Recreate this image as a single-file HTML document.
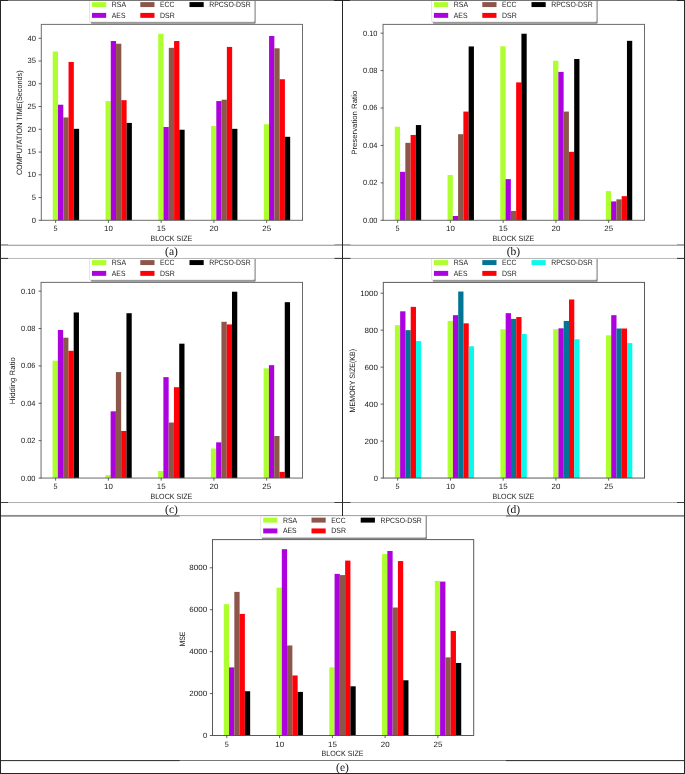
<!DOCTYPE html>
<html><head><meta charset="utf-8"><title>Figure</title>
<style>
html,body{margin:0;padding:0;background:#fff;}
body{width:685px;height:774px;overflow:hidden;font-family:"Liberation Sans",sans-serif;}
svg{display:block;position:absolute;left:0;top:0;}
text{text-rendering:geometricPrecision;}
svg{-webkit-mask-image:linear-gradient(#000,#000);mask-image:linear-gradient(#000,#000);}
</style></head><body>
<svg width="685" height="774" viewBox="0 0 685 774">
<rect x="0" y="0" width="685" height="774" fill="#ffffff"/>
<defs><clipPath id="lc"><rect x="0" y="0.4" width="343" height="245"/></clipPath></defs>
<g transform="translate(0,0)">
<rect x="52.72" y="51.48" width="5.28" height="168.82" fill="#adff2f"/>
<rect x="105.49" y="101.08" width="5.28" height="119.22" fill="#adff2f"/>
<rect x="158.26" y="33.73" width="5.28" height="186.57" fill="#adff2f"/>
<rect x="211.03" y="126.10" width="5.28" height="94.20" fill="#adff2f"/>
<rect x="263.79" y="124.28" width="5.28" height="96.02" fill="#adff2f"/>
<rect x="58.00" y="104.72" width="5.28" height="115.58" fill="#ab02de"/>
<rect x="110.77" y="41.01" width="5.28" height="179.29" fill="#ab02de"/>
<rect x="163.53" y="127.01" width="5.28" height="93.29" fill="#ab02de"/>
<rect x="216.30" y="101.08" width="5.28" height="119.22" fill="#ab02de"/>
<rect x="269.07" y="36.00" width="5.28" height="184.30" fill="#ab02de"/>
<rect x="63.28" y="117.46" width="5.28" height="102.84" fill="#8c564b"/>
<rect x="116.04" y="43.74" width="5.28" height="176.56" fill="#8c564b"/>
<rect x="168.81" y="47.84" width="5.28" height="172.46" fill="#8c564b"/>
<rect x="221.58" y="99.71" width="5.28" height="120.59" fill="#8c564b"/>
<rect x="274.35" y="48.29" width="5.28" height="172.01" fill="#8c564b"/>
<rect x="68.55" y="61.94" width="5.28" height="158.36" fill="#ff0008"/>
<rect x="121.32" y="100.17" width="5.28" height="120.13" fill="#ff0008"/>
<rect x="174.09" y="41.01" width="5.28" height="179.29" fill="#ff0008"/>
<rect x="226.86" y="46.93" width="5.28" height="173.37" fill="#ff0008"/>
<rect x="279.62" y="79.23" width="5.28" height="141.07" fill="#ff0008"/>
<rect x="73.83" y="128.83" width="5.28" height="91.47" fill="#000000"/>
<rect x="126.60" y="122.92" width="5.28" height="97.38" fill="#000000"/>
<rect x="179.37" y="129.74" width="5.28" height="90.56" fill="#000000"/>
<rect x="232.13" y="128.83" width="5.28" height="91.47" fill="#000000"/>
<rect x="284.90" y="136.80" width="5.28" height="83.50" fill="#000000"/>
<line x1="41.30" y1="23.95" x2="41.30" y2="220.75" stroke="#5c5c5c" stroke-width="0.9"/>
<line x1="302.50" y1="23.95" x2="302.50" y2="220.75" stroke="#5c5c5c" stroke-width="0.9"/>
<line x1="41.30" y1="24.40" x2="302.50" y2="24.40" stroke="#5c5c5c" stroke-width="0.9"/>
<line x1="41.30" y1="220.30" x2="302.50" y2="220.30" stroke="#5c5c5c" stroke-width="0.9"/>
<line x1="55.61" y1="220.30" x2="55.61" y2="222.90" stroke="#505050" stroke-width="0.9"/>
<text x="55.51" y="231.40" font-size="7.7" font-family="Liberation Sans, sans-serif" text-anchor="middle" fill="#1a1a1a" textLength="4.01" lengthAdjust="spacingAndGlyphs">5</text>
<line x1="108.38" y1="220.30" x2="108.38" y2="222.90" stroke="#505050" stroke-width="0.9"/>
<text x="108.48" y="231.40" font-size="7.7" font-family="Liberation Sans, sans-serif" text-anchor="middle" fill="#1a1a1a" textLength="8.82" lengthAdjust="spacingAndGlyphs">10</text>
<line x1="161.15" y1="220.30" x2="161.15" y2="222.90" stroke="#505050" stroke-width="0.9"/>
<text x="161.25" y="231.40" font-size="7.7" font-family="Liberation Sans, sans-serif" text-anchor="middle" fill="#1a1a1a" textLength="8.82" lengthAdjust="spacingAndGlyphs">15</text>
<line x1="213.91" y1="220.30" x2="213.91" y2="222.90" stroke="#505050" stroke-width="0.9"/>
<text x="214.01" y="231.40" font-size="7.7" font-family="Liberation Sans, sans-serif" text-anchor="middle" fill="#1a1a1a" textLength="8.82" lengthAdjust="spacingAndGlyphs">20</text>
<line x1="266.68" y1="220.30" x2="266.68" y2="222.90" stroke="#505050" stroke-width="0.9"/>
<text x="266.78" y="231.40" font-size="7.7" font-family="Liberation Sans, sans-serif" text-anchor="middle" fill="#1a1a1a" textLength="8.82" lengthAdjust="spacingAndGlyphs">25</text>
<line x1="38.60" y1="220.30" x2="41.30" y2="220.30" stroke="#505050" stroke-width="0.9"/>
<text x="36.00" y="222.75" font-size="7.7" font-family="Liberation Sans, sans-serif" text-anchor="end" fill="#1a1a1a" textLength="4.23" lengthAdjust="spacingAndGlyphs">0</text>
<line x1="38.60" y1="197.55" x2="41.30" y2="197.55" stroke="#505050" stroke-width="0.9"/>
<text x="36.00" y="200.00" font-size="7.7" font-family="Liberation Sans, sans-serif" text-anchor="end" fill="#1a1a1a" textLength="4.23" lengthAdjust="spacingAndGlyphs">5</text>
<line x1="38.60" y1="174.79" x2="41.30" y2="174.79" stroke="#505050" stroke-width="0.9"/>
<text x="36.00" y="177.24" font-size="7.7" font-family="Liberation Sans, sans-serif" text-anchor="end" fill="#1a1a1a" textLength="8.46" lengthAdjust="spacingAndGlyphs">10</text>
<line x1="38.60" y1="152.04" x2="41.30" y2="152.04" stroke="#505050" stroke-width="0.9"/>
<text x="36.00" y="154.49" font-size="7.7" font-family="Liberation Sans, sans-serif" text-anchor="end" fill="#1a1a1a" textLength="8.46" lengthAdjust="spacingAndGlyphs">15</text>
<line x1="38.60" y1="129.29" x2="41.30" y2="129.29" stroke="#505050" stroke-width="0.9"/>
<text x="36.00" y="131.74" font-size="7.7" font-family="Liberation Sans, sans-serif" text-anchor="end" fill="#1a1a1a" textLength="8.46" lengthAdjust="spacingAndGlyphs">20</text>
<line x1="38.60" y1="106.54" x2="41.30" y2="106.54" stroke="#505050" stroke-width="0.9"/>
<text x="36.00" y="108.99" font-size="7.7" font-family="Liberation Sans, sans-serif" text-anchor="end" fill="#1a1a1a" textLength="8.46" lengthAdjust="spacingAndGlyphs">25</text>
<line x1="38.60" y1="83.78" x2="41.30" y2="83.78" stroke="#505050" stroke-width="0.9"/>
<text x="36.00" y="86.23" font-size="7.7" font-family="Liberation Sans, sans-serif" text-anchor="end" fill="#1a1a1a" textLength="8.46" lengthAdjust="spacingAndGlyphs">30</text>
<line x1="38.60" y1="61.03" x2="41.30" y2="61.03" stroke="#505050" stroke-width="0.9"/>
<text x="36.00" y="63.48" font-size="7.7" font-family="Liberation Sans, sans-serif" text-anchor="end" fill="#1a1a1a" textLength="8.46" lengthAdjust="spacingAndGlyphs">35</text>
<line x1="38.60" y1="38.28" x2="41.30" y2="38.28" stroke="#505050" stroke-width="0.9"/>
<text x="36.00" y="40.73" font-size="7.7" font-family="Liberation Sans, sans-serif" text-anchor="end" fill="#1a1a1a" textLength="8.46" lengthAdjust="spacingAndGlyphs">40</text>
<text x="171.40" y="241.00" font-size="7.7" font-family="Liberation Sans, sans-serif" text-anchor="middle" fill="#1a1a1a" textLength="41.99" lengthAdjust="spacingAndGlyphs">BLOCK SIZE</text>
<text x="22.20" y="122.75" font-size="7.7" font-family="Liberation Sans, sans-serif" text-anchor="middle" fill="#1a1a1a" textLength="104.75" lengthAdjust="spacingAndGlyphs" transform="rotate(-90 22.20 122.75)">COMPUTATION TIME(Seconds)</text>
<g clip-path="url(#lc)">
<g transform="translate(0,0.0)">
<rect x="90.80" y="-1.10" width="164.90" height="24.90" rx="1.2" fill="#888888"/>
<rect x="89.50" y="-3.00" width="164.90" height="24.90" rx="1.2" fill="#ffffff" stroke="#d4d4d4" stroke-width="0.6"/>
<rect x="92.00" y="2.10" width="14.2" height="4.95" fill="#adff2f"/>
<text x="111.80" y="7.05" font-size="7.7" font-family="Liberation Sans, sans-serif" text-anchor="start" fill="#1a1a1a" textLength="14.23" lengthAdjust="spacingAndGlyphs">RSA</text>
<rect x="92.00" y="12.90" width="14.2" height="4.95" fill="#ab02de"/>
<text x="111.80" y="17.85" font-size="7.7" font-family="Liberation Sans, sans-serif" text-anchor="start" fill="#1a1a1a" textLength="13.66" lengthAdjust="spacingAndGlyphs">AES</text>
<rect x="140.30" y="2.10" width="14.2" height="4.95" fill="#8c564b"/>
<text x="160.10" y="7.05" font-size="7.7" font-family="Liberation Sans, sans-serif" text-anchor="start" fill="#1a1a1a" textLength="14.20" lengthAdjust="spacingAndGlyphs">ECC</text>
<rect x="140.30" y="12.90" width="14.2" height="4.95" fill="#ff0008"/>
<text x="160.10" y="17.85" font-size="7.7" font-family="Liberation Sans, sans-serif" text-anchor="start" fill="#1a1a1a" textLength="14.70" lengthAdjust="spacingAndGlyphs">DSR</text>
<rect x="189.50" y="2.10" width="14.2" height="4.95" fill="#000000"/>
<text x="209.30" y="7.05" font-size="7.7" font-family="Liberation Sans, sans-serif" text-anchor="start" fill="#1a1a1a" textLength="41.34" lengthAdjust="spacingAndGlyphs">RPCSO-DSR</text>
</g>
</g>
</g>
<g transform="translate(342,0)">
<rect x="52.77" y="126.73" width="5.28" height="93.57" fill="#adff2f"/>
<rect x="105.54" y="175.01" width="5.28" height="45.29" fill="#adff2f"/>
<rect x="158.31" y="46.27" width="5.28" height="174.03" fill="#adff2f"/>
<rect x="211.08" y="60.68" width="5.28" height="159.62" fill="#adff2f"/>
<rect x="263.84" y="191.11" width="5.28" height="29.19" fill="#adff2f"/>
<rect x="58.05" y="171.83" width="5.28" height="48.47" fill="#ab02de"/>
<rect x="110.82" y="216.00" width="5.28" height="4.30" fill="#ab02de"/>
<rect x="163.58" y="179.13" width="5.28" height="41.17" fill="#ab02de"/>
<rect x="216.35" y="71.90" width="5.28" height="148.40" fill="#ab02de"/>
<rect x="269.12" y="201.40" width="5.28" height="18.90" fill="#ab02de"/>
<rect x="63.33" y="142.83" width="5.28" height="77.47" fill="#8c564b"/>
<rect x="116.09" y="134.22" width="5.28" height="86.08" fill="#8c564b"/>
<rect x="168.86" y="210.94" width="5.28" height="9.36" fill="#8c564b"/>
<rect x="221.63" y="111.58" width="5.28" height="108.72" fill="#8c564b"/>
<rect x="274.40" y="199.34" width="5.28" height="20.96" fill="#8c564b"/>
<rect x="68.60" y="134.97" width="5.28" height="85.33" fill="#ff0008"/>
<rect x="121.37" y="111.58" width="5.28" height="108.72" fill="#ff0008"/>
<rect x="174.14" y="82.38" width="5.28" height="137.92" fill="#ff0008"/>
<rect x="226.91" y="151.81" width="5.28" height="68.49" fill="#ff0008"/>
<rect x="279.67" y="196.16" width="5.28" height="24.14" fill="#ff0008"/>
<rect x="73.88" y="125.05" width="5.28" height="95.25" fill="#000000"/>
<rect x="126.65" y="46.45" width="5.28" height="173.85" fill="#000000"/>
<rect x="179.42" y="33.73" width="5.28" height="186.57" fill="#000000"/>
<rect x="232.18" y="58.99" width="5.28" height="161.31" fill="#000000"/>
<rect x="284.95" y="40.84" width="5.28" height="179.46" fill="#000000"/>
<line x1="41.05" y1="23.95" x2="41.05" y2="220.75" stroke="#5a5a5a" stroke-width="0.9"/>
<line x1="302.50" y1="23.95" x2="302.50" y2="220.75" stroke="#5a5a5a" stroke-width="0.9"/>
<line x1="41.05" y1="24.40" x2="302.50" y2="24.40" stroke="#5a5a5a" stroke-width="0.9"/>
<line x1="41.05" y1="220.30" x2="302.50" y2="220.30" stroke="#5a5a5a" stroke-width="0.9"/>
<line x1="55.61" y1="220.30" x2="55.61" y2="222.90" stroke="#505050" stroke-width="0.9"/>
<text x="55.51" y="231.40" font-size="7.7" font-family="Liberation Sans, sans-serif" text-anchor="middle" fill="#1a1a1a" textLength="4.01" lengthAdjust="spacingAndGlyphs">5</text>
<line x1="108.38" y1="220.30" x2="108.38" y2="222.90" stroke="#505050" stroke-width="0.9"/>
<text x="108.48" y="231.40" font-size="7.7" font-family="Liberation Sans, sans-serif" text-anchor="middle" fill="#1a1a1a" textLength="8.82" lengthAdjust="spacingAndGlyphs">10</text>
<line x1="161.15" y1="220.30" x2="161.15" y2="222.90" stroke="#505050" stroke-width="0.9"/>
<text x="161.25" y="231.40" font-size="7.7" font-family="Liberation Sans, sans-serif" text-anchor="middle" fill="#1a1a1a" textLength="8.82" lengthAdjust="spacingAndGlyphs">15</text>
<line x1="213.91" y1="220.30" x2="213.91" y2="222.90" stroke="#505050" stroke-width="0.9"/>
<text x="214.01" y="231.40" font-size="7.7" font-family="Liberation Sans, sans-serif" text-anchor="middle" fill="#1a1a1a" textLength="8.82" lengthAdjust="spacingAndGlyphs">20</text>
<line x1="266.68" y1="220.30" x2="266.68" y2="222.90" stroke="#505050" stroke-width="0.9"/>
<text x="266.78" y="231.40" font-size="7.7" font-family="Liberation Sans, sans-serif" text-anchor="middle" fill="#1a1a1a" textLength="8.82" lengthAdjust="spacingAndGlyphs">25</text>
<line x1="38.60" y1="220.30" x2="41.30" y2="220.30" stroke="#505050" stroke-width="0.9"/>
<text x="35.50" y="222.75" font-size="7.7" font-family="Liberation Sans, sans-serif" text-anchor="end" fill="#1a1a1a" textLength="14.49" lengthAdjust="spacingAndGlyphs">0.00</text>
<line x1="38.60" y1="182.87" x2="41.30" y2="182.87" stroke="#505050" stroke-width="0.9"/>
<text x="35.50" y="185.32" font-size="7.7" font-family="Liberation Sans, sans-serif" text-anchor="end" fill="#1a1a1a" textLength="14.49" lengthAdjust="spacingAndGlyphs">0.02</text>
<line x1="38.60" y1="145.45" x2="41.30" y2="145.45" stroke="#505050" stroke-width="0.9"/>
<text x="35.50" y="147.90" font-size="7.7" font-family="Liberation Sans, sans-serif" text-anchor="end" fill="#1a1a1a" textLength="14.49" lengthAdjust="spacingAndGlyphs">0.04</text>
<line x1="38.60" y1="108.02" x2="41.30" y2="108.02" stroke="#505050" stroke-width="0.9"/>
<text x="35.50" y="110.47" font-size="7.7" font-family="Liberation Sans, sans-serif" text-anchor="end" fill="#1a1a1a" textLength="14.49" lengthAdjust="spacingAndGlyphs">0.06</text>
<line x1="38.60" y1="70.59" x2="41.30" y2="70.59" stroke="#505050" stroke-width="0.9"/>
<text x="35.50" y="73.04" font-size="7.7" font-family="Liberation Sans, sans-serif" text-anchor="end" fill="#1a1a1a" textLength="14.49" lengthAdjust="spacingAndGlyphs">0.08</text>
<line x1="38.60" y1="33.17" x2="41.30" y2="33.17" stroke="#505050" stroke-width="0.9"/>
<text x="35.50" y="35.62" font-size="7.7" font-family="Liberation Sans, sans-serif" text-anchor="end" fill="#1a1a1a" textLength="14.49" lengthAdjust="spacingAndGlyphs">0.10</text>
<text x="171.40" y="241.00" font-size="7.7" font-family="Liberation Sans, sans-serif" text-anchor="middle" fill="#1a1a1a" textLength="41.99" lengthAdjust="spacingAndGlyphs">BLOCK SIZE</text>
<text x="14.70" y="122.75" font-size="7.7" font-family="Liberation Sans, sans-serif" text-anchor="middle" fill="#1a1a1a" textLength="64.00" lengthAdjust="spacingAndGlyphs" transform="rotate(-90 14.70 122.75)">Preservation Ratio</text>
<g clip-path="url(#lc)">
<g transform="translate(0,0.0)">
<rect x="90.80" y="-1.10" width="164.90" height="24.90" rx="1.2" fill="#888888"/>
<rect x="89.50" y="-3.00" width="164.90" height="24.90" rx="1.2" fill="#ffffff" stroke="#d4d4d4" stroke-width="0.6"/>
<rect x="92.00" y="2.10" width="14.2" height="4.95" fill="#adff2f"/>
<text x="111.80" y="7.05" font-size="7.7" font-family="Liberation Sans, sans-serif" text-anchor="start" fill="#1a1a1a" textLength="14.23" lengthAdjust="spacingAndGlyphs">RSA</text>
<rect x="92.00" y="12.90" width="14.2" height="4.95" fill="#ab02de"/>
<text x="111.80" y="17.85" font-size="7.7" font-family="Liberation Sans, sans-serif" text-anchor="start" fill="#1a1a1a" textLength="13.66" lengthAdjust="spacingAndGlyphs">AES</text>
<rect x="140.30" y="2.10" width="14.2" height="4.95" fill="#8c564b"/>
<text x="160.10" y="7.05" font-size="7.7" font-family="Liberation Sans, sans-serif" text-anchor="start" fill="#1a1a1a" textLength="14.20" lengthAdjust="spacingAndGlyphs">ECC</text>
<rect x="140.30" y="12.90" width="14.2" height="4.95" fill="#ff0008"/>
<text x="160.10" y="17.85" font-size="7.7" font-family="Liberation Sans, sans-serif" text-anchor="start" fill="#1a1a1a" textLength="14.70" lengthAdjust="spacingAndGlyphs">DSR</text>
<rect x="189.50" y="2.10" width="14.2" height="4.95" fill="#000000"/>
<text x="209.30" y="7.05" font-size="7.7" font-family="Liberation Sans, sans-serif" text-anchor="start" fill="#1a1a1a" textLength="41.34" lengthAdjust="spacingAndGlyphs">RPCSO-DSR</text>
</g>
</g>
</g>
<g transform="translate(0,258)">
<rect x="52.57" y="102.68" width="5.28" height="117.37" fill="#adff2f"/>
<rect x="105.34" y="217.06" width="5.28" height="2.99" fill="#adff2f"/>
<rect x="158.11" y="212.95" width="5.28" height="7.10" fill="#adff2f"/>
<rect x="210.88" y="190.52" width="5.28" height="29.53" fill="#adff2f"/>
<rect x="263.64" y="110.34" width="5.28" height="109.71" fill="#adff2f"/>
<rect x="57.85" y="72.03" width="5.28" height="148.02" fill="#ab02de"/>
<rect x="110.62" y="153.33" width="5.28" height="66.72" fill="#ab02de"/>
<rect x="163.38" y="119.13" width="5.28" height="100.92" fill="#ab02de"/>
<rect x="216.15" y="184.35" width="5.28" height="35.70" fill="#ab02de"/>
<rect x="268.92" y="107.17" width="5.28" height="112.88" fill="#ab02de"/>
<rect x="63.13" y="79.69" width="5.28" height="140.36" fill="#8c564b"/>
<rect x="115.89" y="114.08" width="5.28" height="105.97" fill="#8c564b"/>
<rect x="168.66" y="164.54" width="5.28" height="55.51" fill="#8c564b"/>
<rect x="221.43" y="63.81" width="5.28" height="156.24" fill="#8c564b"/>
<rect x="274.20" y="178.00" width="5.28" height="42.05" fill="#8c564b"/>
<rect x="68.40" y="92.78" width="5.28" height="127.27" fill="#ff0008"/>
<rect x="121.17" y="172.95" width="5.28" height="47.10" fill="#ff0008"/>
<rect x="173.94" y="129.22" width="5.28" height="90.83" fill="#ff0008"/>
<rect x="226.71" y="66.42" width="5.28" height="153.63" fill="#ff0008"/>
<rect x="279.47" y="213.88" width="5.28" height="6.17" fill="#ff0008"/>
<rect x="73.68" y="54.46" width="5.28" height="165.59" fill="#000000"/>
<rect x="126.45" y="55.21" width="5.28" height="164.84" fill="#000000"/>
<rect x="179.22" y="85.67" width="5.28" height="134.38" fill="#000000"/>
<rect x="231.98" y="33.72" width="5.28" height="186.33" fill="#000000"/>
<rect x="284.75" y="44.18" width="5.28" height="175.87" fill="#000000"/>
<line x1="41.05" y1="23.95" x2="41.05" y2="220.50" stroke="#5a5a5a" stroke-width="0.9"/>
<line x1="302.50" y1="23.95" x2="302.50" y2="220.50" stroke="#5a5a5a" stroke-width="0.9"/>
<line x1="41.05" y1="24.40" x2="302.50" y2="24.40" stroke="#5a5a5a" stroke-width="0.9"/>
<line x1="41.05" y1="220.05" x2="302.50" y2="220.05" stroke="#5a5a5a" stroke-width="0.9"/>
<line x1="55.61" y1="220.05" x2="55.61" y2="222.65" stroke="#505050" stroke-width="0.9"/>
<text x="55.51" y="231.40" font-size="7.7" font-family="Liberation Sans, sans-serif" text-anchor="middle" fill="#1a1a1a" textLength="4.01" lengthAdjust="spacingAndGlyphs">5</text>
<line x1="108.38" y1="220.05" x2="108.38" y2="222.65" stroke="#505050" stroke-width="0.9"/>
<text x="108.48" y="231.40" font-size="7.7" font-family="Liberation Sans, sans-serif" text-anchor="middle" fill="#1a1a1a" textLength="8.82" lengthAdjust="spacingAndGlyphs">10</text>
<line x1="161.15" y1="220.05" x2="161.15" y2="222.65" stroke="#505050" stroke-width="0.9"/>
<text x="161.25" y="231.40" font-size="7.7" font-family="Liberation Sans, sans-serif" text-anchor="middle" fill="#1a1a1a" textLength="8.82" lengthAdjust="spacingAndGlyphs">15</text>
<line x1="213.91" y1="220.05" x2="213.91" y2="222.65" stroke="#505050" stroke-width="0.9"/>
<text x="214.01" y="231.40" font-size="7.7" font-family="Liberation Sans, sans-serif" text-anchor="middle" fill="#1a1a1a" textLength="8.82" lengthAdjust="spacingAndGlyphs">20</text>
<line x1="266.68" y1="220.05" x2="266.68" y2="222.65" stroke="#505050" stroke-width="0.9"/>
<text x="266.78" y="231.40" font-size="7.7" font-family="Liberation Sans, sans-serif" text-anchor="middle" fill="#1a1a1a" textLength="8.82" lengthAdjust="spacingAndGlyphs">25</text>
<line x1="38.60" y1="220.05" x2="41.30" y2="220.05" stroke="#505050" stroke-width="0.9"/>
<text x="35.50" y="222.50" font-size="7.7" font-family="Liberation Sans, sans-serif" text-anchor="end" fill="#1a1a1a" textLength="14.49" lengthAdjust="spacingAndGlyphs">0.00</text>
<line x1="38.60" y1="182.67" x2="41.30" y2="182.67" stroke="#505050" stroke-width="0.9"/>
<text x="35.50" y="185.12" font-size="7.7" font-family="Liberation Sans, sans-serif" text-anchor="end" fill="#1a1a1a" textLength="14.49" lengthAdjust="spacingAndGlyphs">0.02</text>
<line x1="38.60" y1="145.29" x2="41.30" y2="145.29" stroke="#505050" stroke-width="0.9"/>
<text x="35.50" y="147.74" font-size="7.7" font-family="Liberation Sans, sans-serif" text-anchor="end" fill="#1a1a1a" textLength="14.49" lengthAdjust="spacingAndGlyphs">0.04</text>
<line x1="38.60" y1="107.91" x2="41.30" y2="107.91" stroke="#505050" stroke-width="0.9"/>
<text x="35.50" y="110.36" font-size="7.7" font-family="Liberation Sans, sans-serif" text-anchor="end" fill="#1a1a1a" textLength="14.49" lengthAdjust="spacingAndGlyphs">0.06</text>
<line x1="38.60" y1="70.53" x2="41.30" y2="70.53" stroke="#505050" stroke-width="0.9"/>
<text x="35.50" y="72.98" font-size="7.7" font-family="Liberation Sans, sans-serif" text-anchor="end" fill="#1a1a1a" textLength="14.49" lengthAdjust="spacingAndGlyphs">0.08</text>
<line x1="38.60" y1="33.16" x2="41.30" y2="33.16" stroke="#505050" stroke-width="0.9"/>
<text x="35.50" y="35.61" font-size="7.7" font-family="Liberation Sans, sans-serif" text-anchor="end" fill="#1a1a1a" textLength="14.49" lengthAdjust="spacingAndGlyphs">0.10</text>
<text x="171.40" y="241.00" font-size="7.7" font-family="Liberation Sans, sans-serif" text-anchor="middle" fill="#1a1a1a" textLength="41.99" lengthAdjust="spacingAndGlyphs">BLOCK SIZE</text>
<text x="14.60" y="122.63" font-size="7.7" font-family="Liberation Sans, sans-serif" text-anchor="middle" fill="#1a1a1a" textLength="47.12" lengthAdjust="spacingAndGlyphs" transform="rotate(-90 14.60 122.63)">Hidding Ratio</text>
<g clip-path="url(#lc)">
<g transform="translate(0,0.0)">
<rect x="90.80" y="-1.10" width="164.90" height="24.90" rx="1.2" fill="#888888"/>
<rect x="89.50" y="-3.00" width="164.90" height="24.90" rx="1.2" fill="#ffffff" stroke="#d4d4d4" stroke-width="0.6"/>
<rect x="92.00" y="2.10" width="14.2" height="4.95" fill="#adff2f"/>
<text x="111.80" y="7.05" font-size="7.7" font-family="Liberation Sans, sans-serif" text-anchor="start" fill="#1a1a1a" textLength="14.23" lengthAdjust="spacingAndGlyphs">RSA</text>
<rect x="92.00" y="12.90" width="14.2" height="4.95" fill="#ab02de"/>
<text x="111.80" y="17.85" font-size="7.7" font-family="Liberation Sans, sans-serif" text-anchor="start" fill="#1a1a1a" textLength="13.66" lengthAdjust="spacingAndGlyphs">AES</text>
<rect x="140.30" y="2.10" width="14.2" height="4.95" fill="#8c564b"/>
<text x="160.10" y="7.05" font-size="7.7" font-family="Liberation Sans, sans-serif" text-anchor="start" fill="#1a1a1a" textLength="14.20" lengthAdjust="spacingAndGlyphs">ECC</text>
<rect x="140.30" y="12.90" width="14.2" height="4.95" fill="#ff0008"/>
<text x="160.10" y="17.85" font-size="7.7" font-family="Liberation Sans, sans-serif" text-anchor="start" fill="#1a1a1a" textLength="14.70" lengthAdjust="spacingAndGlyphs">DSR</text>
<rect x="189.50" y="2.10" width="14.2" height="4.95" fill="#000000"/>
<text x="209.30" y="7.05" font-size="7.7" font-family="Liberation Sans, sans-serif" text-anchor="start" fill="#1a1a1a" textLength="41.34" lengthAdjust="spacingAndGlyphs">RPCSO-DSR</text>
</g>
</g>
</g>
<g transform="translate(342,258)">
<rect x="52.87" y="67.18" width="5.28" height="152.87" fill="#adff2f"/>
<rect x="105.64" y="62.92" width="5.28" height="157.13" fill="#adff2f"/>
<rect x="158.41" y="71.24" width="5.28" height="148.81" fill="#adff2f"/>
<rect x="211.18" y="71.24" width="5.28" height="148.81" fill="#adff2f"/>
<rect x="263.94" y="77.34" width="5.28" height="142.71" fill="#adff2f"/>
<rect x="58.15" y="53.31" width="5.28" height="166.74" fill="#ab02de"/>
<rect x="110.92" y="57.19" width="5.28" height="162.86" fill="#ab02de"/>
<rect x="163.68" y="55.16" width="5.28" height="164.89" fill="#ab02de"/>
<rect x="216.45" y="70.32" width="5.28" height="149.73" fill="#ab02de"/>
<rect x="269.22" y="57.19" width="5.28" height="162.86" fill="#ab02de"/>
<rect x="63.43" y="72.17" width="5.28" height="147.88" fill="#047495"/>
<rect x="116.19" y="33.53" width="5.28" height="186.52" fill="#047495"/>
<rect x="168.96" y="60.89" width="5.28" height="159.16" fill="#047495"/>
<rect x="221.73" y="62.92" width="5.28" height="157.13" fill="#047495"/>
<rect x="274.50" y="70.50" width="5.28" height="149.55" fill="#047495"/>
<rect x="68.70" y="48.87" width="5.28" height="171.18" fill="#ff0008"/>
<rect x="121.47" y="65.33" width="5.28" height="154.72" fill="#ff0008"/>
<rect x="174.24" y="59.04" width="5.28" height="161.01" fill="#ff0008"/>
<rect x="227.01" y="41.48" width="5.28" height="178.57" fill="#ff0008"/>
<rect x="279.77" y="70.50" width="5.28" height="149.55" fill="#ff0008"/>
<rect x="73.98" y="83.07" width="5.28" height="136.98" fill="#0bf9ea"/>
<rect x="126.75" y="88.25" width="5.28" height="131.80" fill="#0bf9ea"/>
<rect x="179.52" y="76.05" width="5.28" height="144.00" fill="#0bf9ea"/>
<rect x="232.28" y="81.22" width="5.28" height="138.83" fill="#0bf9ea"/>
<rect x="285.05" y="85.11" width="5.28" height="134.94" fill="#0bf9ea"/>
<line x1="41.30" y1="23.95" x2="41.30" y2="220.50" stroke="#505050" stroke-width="0.95"/>
<line x1="302.50" y1="23.95" x2="302.50" y2="220.50" stroke="#505050" stroke-width="0.95"/>
<line x1="41.30" y1="24.40" x2="302.50" y2="24.40" stroke="#505050" stroke-width="0.95"/>
<line x1="41.30" y1="220.05" x2="302.50" y2="220.05" stroke="#505050" stroke-width="0.95"/>
<line x1="55.61" y1="220.05" x2="55.61" y2="222.65" stroke="#505050" stroke-width="0.9"/>
<text x="55.51" y="231.40" font-size="7.7" font-family="Liberation Sans, sans-serif" text-anchor="middle" fill="#1a1a1a" textLength="4.01" lengthAdjust="spacingAndGlyphs">5</text>
<line x1="108.38" y1="220.05" x2="108.38" y2="222.65" stroke="#505050" stroke-width="0.9"/>
<text x="108.48" y="231.40" font-size="7.7" font-family="Liberation Sans, sans-serif" text-anchor="middle" fill="#1a1a1a" textLength="8.82" lengthAdjust="spacingAndGlyphs">10</text>
<line x1="161.15" y1="220.05" x2="161.15" y2="222.65" stroke="#505050" stroke-width="0.9"/>
<text x="161.25" y="231.40" font-size="7.7" font-family="Liberation Sans, sans-serif" text-anchor="middle" fill="#1a1a1a" textLength="8.82" lengthAdjust="spacingAndGlyphs">15</text>
<line x1="213.91" y1="220.05" x2="213.91" y2="222.65" stroke="#505050" stroke-width="0.9"/>
<text x="214.01" y="231.40" font-size="7.7" font-family="Liberation Sans, sans-serif" text-anchor="middle" fill="#1a1a1a" textLength="8.82" lengthAdjust="spacingAndGlyphs">20</text>
<line x1="266.68" y1="220.05" x2="266.68" y2="222.65" stroke="#505050" stroke-width="0.9"/>
<text x="266.78" y="231.40" font-size="7.7" font-family="Liberation Sans, sans-serif" text-anchor="middle" fill="#1a1a1a" textLength="8.82" lengthAdjust="spacingAndGlyphs">25</text>
<line x1="38.60" y1="220.05" x2="41.30" y2="220.05" stroke="#505050" stroke-width="0.9"/>
<text x="36.00" y="222.50" font-size="7.7" font-family="Liberation Sans, sans-serif" text-anchor="end" fill="#1a1a1a" textLength="4.23" lengthAdjust="spacingAndGlyphs">0</text>
<line x1="38.60" y1="183.08" x2="41.30" y2="183.08" stroke="#505050" stroke-width="0.9"/>
<text x="36.00" y="185.53" font-size="7.7" font-family="Liberation Sans, sans-serif" text-anchor="end" fill="#1a1a1a" textLength="13.36" lengthAdjust="spacingAndGlyphs">200</text>
<line x1="38.60" y1="146.11" x2="41.30" y2="146.11" stroke="#505050" stroke-width="0.9"/>
<text x="36.00" y="148.56" font-size="7.7" font-family="Liberation Sans, sans-serif" text-anchor="end" fill="#1a1a1a" textLength="13.36" lengthAdjust="spacingAndGlyphs">400</text>
<line x1="38.60" y1="109.14" x2="41.30" y2="109.14" stroke="#505050" stroke-width="0.9"/>
<text x="36.00" y="111.59" font-size="7.7" font-family="Liberation Sans, sans-serif" text-anchor="end" fill="#1a1a1a" textLength="13.36" lengthAdjust="spacingAndGlyphs">600</text>
<line x1="38.60" y1="72.17" x2="41.30" y2="72.17" stroke="#505050" stroke-width="0.9"/>
<text x="36.00" y="74.62" font-size="7.7" font-family="Liberation Sans, sans-serif" text-anchor="end" fill="#1a1a1a" textLength="13.36" lengthAdjust="spacingAndGlyphs">800</text>
<line x1="38.60" y1="35.20" x2="41.30" y2="35.20" stroke="#505050" stroke-width="0.9"/>
<text x="36.00" y="37.65" font-size="7.7" font-family="Liberation Sans, sans-serif" text-anchor="end" fill="#1a1a1a" textLength="17.82" lengthAdjust="spacingAndGlyphs">1000</text>
<text x="171.40" y="241.00" font-size="7.7" font-family="Liberation Sans, sans-serif" text-anchor="middle" fill="#1a1a1a" textLength="41.99" lengthAdjust="spacingAndGlyphs">BLOCK SIZE</text>
<text x="13.50" y="122.63" font-size="7.7" font-family="Liberation Sans, sans-serif" text-anchor="middle" fill="#1a1a1a" textLength="63.51" lengthAdjust="spacingAndGlyphs" transform="rotate(-90 13.50 122.63)">MEMORY SIZE(KB)</text>
<g clip-path="url(#lc)">
<g transform="translate(0,0.0)">
<rect x="90.80" y="-1.10" width="164.90" height="24.90" rx="1.2" fill="#888888"/>
<rect x="89.50" y="-3.00" width="164.90" height="24.90" rx="1.2" fill="#ffffff" stroke="#d4d4d4" stroke-width="0.6"/>
<rect x="92.00" y="2.10" width="14.2" height="4.95" fill="#adff2f"/>
<text x="111.80" y="7.05" font-size="7.7" font-family="Liberation Sans, sans-serif" text-anchor="start" fill="#1a1a1a" textLength="14.23" lengthAdjust="spacingAndGlyphs">RSA</text>
<rect x="92.00" y="12.90" width="14.2" height="4.95" fill="#ab02de"/>
<text x="111.80" y="17.85" font-size="7.7" font-family="Liberation Sans, sans-serif" text-anchor="start" fill="#1a1a1a" textLength="13.66" lengthAdjust="spacingAndGlyphs">AES</text>
<rect x="140.30" y="2.10" width="14.2" height="4.95" fill="#047495"/>
<text x="160.10" y="7.05" font-size="7.7" font-family="Liberation Sans, sans-serif" text-anchor="start" fill="#1a1a1a" textLength="14.20" lengthAdjust="spacingAndGlyphs">ECC</text>
<rect x="140.30" y="12.90" width="14.2" height="4.95" fill="#ff0008"/>
<text x="160.10" y="17.85" font-size="7.7" font-family="Liberation Sans, sans-serif" text-anchor="start" fill="#1a1a1a" textLength="14.70" lengthAdjust="spacingAndGlyphs">DSR</text>
<rect x="189.50" y="2.10" width="14.2" height="4.95" fill="#0bf9ea"/>
<text x="209.30" y="7.05" font-size="7.7" font-family="Liberation Sans, sans-serif" text-anchor="start" fill="#1a1a1a" textLength="41.34" lengthAdjust="spacingAndGlyphs">RPCSO-DSR</text>
</g>
</g>
</g>
<g transform="translate(171.2,515.2)">
<rect x="52.57" y="88.99" width="5.28" height="131.31" fill="#adff2f"/>
<rect x="105.34" y="72.49" width="5.28" height="147.81" fill="#adff2f"/>
<rect x="158.11" y="152.19" width="5.28" height="68.11" fill="#adff2f"/>
<rect x="210.88" y="38.84" width="5.28" height="181.46" fill="#adff2f"/>
<rect x="263.64" y="65.70" width="5.28" height="154.60" fill="#adff2f"/>
<rect x="57.85" y="152.19" width="5.28" height="68.11" fill="#ab02de"/>
<rect x="110.62" y="33.98" width="5.28" height="186.32" fill="#ab02de"/>
<rect x="163.38" y="58.67" width="5.28" height="161.63" fill="#ab02de"/>
<rect x="216.15" y="35.78" width="5.28" height="184.52" fill="#ab02de"/>
<rect x="268.92" y="66.39" width="5.28" height="153.91" fill="#ab02de"/>
<rect x="63.13" y="76.68" width="5.28" height="143.62" fill="#8c564b"/>
<rect x="115.89" y="130.26" width="5.28" height="90.04" fill="#8c564b"/>
<rect x="168.66" y="59.87" width="5.28" height="160.43" fill="#8c564b"/>
<rect x="221.43" y="92.32" width="5.28" height="127.98" fill="#8c564b"/>
<rect x="274.20" y="142.17" width="5.28" height="78.13" fill="#8c564b"/>
<rect x="68.40" y="98.71" width="5.28" height="121.59" fill="#ff0008"/>
<rect x="121.17" y="160.26" width="5.28" height="60.04" fill="#ff0008"/>
<rect x="173.94" y="45.38" width="5.28" height="174.92" fill="#ff0008"/>
<rect x="226.71" y="45.85" width="5.28" height="174.45" fill="#ff0008"/>
<rect x="279.47" y="115.74" width="5.28" height="104.56" fill="#ff0008"/>
<rect x="73.68" y="176.03" width="5.28" height="44.27" fill="#000000"/>
<rect x="126.45" y="176.70" width="5.28" height="43.60" fill="#000000"/>
<rect x="179.22" y="171.10" width="5.28" height="49.20" fill="#000000"/>
<rect x="231.98" y="165.08" width="5.28" height="55.22" fill="#000000"/>
<rect x="284.75" y="147.77" width="5.28" height="72.53" fill="#000000"/>
<line x1="41.30" y1="23.95" x2="41.30" y2="220.75" stroke="#505050" stroke-width="0.95"/>
<line x1="302.50" y1="23.95" x2="302.50" y2="220.75" stroke="#505050" stroke-width="0.95"/>
<line x1="41.30" y1="24.40" x2="302.50" y2="24.40" stroke="#505050" stroke-width="0.95"/>
<line x1="41.30" y1="220.30" x2="302.50" y2="220.30" stroke="#505050" stroke-width="0.95"/>
<line x1="55.61" y1="220.30" x2="55.61" y2="222.90" stroke="#505050" stroke-width="0.9"/>
<text x="55.51" y="231.40" font-size="7.7" font-family="Liberation Sans, sans-serif" text-anchor="middle" fill="#1a1a1a" textLength="4.01" lengthAdjust="spacingAndGlyphs">5</text>
<line x1="108.38" y1="220.30" x2="108.38" y2="222.90" stroke="#505050" stroke-width="0.9"/>
<text x="108.48" y="231.40" font-size="7.7" font-family="Liberation Sans, sans-serif" text-anchor="middle" fill="#1a1a1a" textLength="8.82" lengthAdjust="spacingAndGlyphs">10</text>
<line x1="161.15" y1="220.30" x2="161.15" y2="222.90" stroke="#505050" stroke-width="0.9"/>
<text x="161.25" y="231.40" font-size="7.7" font-family="Liberation Sans, sans-serif" text-anchor="middle" fill="#1a1a1a" textLength="8.82" lengthAdjust="spacingAndGlyphs">15</text>
<line x1="213.91" y1="220.30" x2="213.91" y2="222.90" stroke="#505050" stroke-width="0.9"/>
<text x="214.01" y="231.40" font-size="7.7" font-family="Liberation Sans, sans-serif" text-anchor="middle" fill="#1a1a1a" textLength="8.82" lengthAdjust="spacingAndGlyphs">20</text>
<line x1="266.68" y1="220.30" x2="266.68" y2="222.90" stroke="#505050" stroke-width="0.9"/>
<text x="266.78" y="231.40" font-size="7.7" font-family="Liberation Sans, sans-serif" text-anchor="middle" fill="#1a1a1a" textLength="8.82" lengthAdjust="spacingAndGlyphs">25</text>
<line x1="38.60" y1="220.30" x2="41.30" y2="220.30" stroke="#505050" stroke-width="0.9"/>
<text x="36.00" y="222.75" font-size="7.7" font-family="Liberation Sans, sans-serif" text-anchor="end" fill="#1a1a1a" textLength="4.23" lengthAdjust="spacingAndGlyphs">0</text>
<line x1="38.60" y1="178.37" x2="41.30" y2="178.37" stroke="#505050" stroke-width="0.9"/>
<text x="36.00" y="180.82" font-size="7.7" font-family="Liberation Sans, sans-serif" text-anchor="end" fill="#1a1a1a" textLength="17.82" lengthAdjust="spacingAndGlyphs">2000</text>
<line x1="38.60" y1="136.45" x2="41.30" y2="136.45" stroke="#505050" stroke-width="0.9"/>
<text x="36.00" y="138.90" font-size="7.7" font-family="Liberation Sans, sans-serif" text-anchor="end" fill="#1a1a1a" textLength="17.82" lengthAdjust="spacingAndGlyphs">4000</text>
<line x1="38.60" y1="94.52" x2="41.30" y2="94.52" stroke="#505050" stroke-width="0.9"/>
<text x="36.00" y="96.97" font-size="7.7" font-family="Liberation Sans, sans-serif" text-anchor="end" fill="#1a1a1a" textLength="17.82" lengthAdjust="spacingAndGlyphs">6000</text>
<line x1="38.60" y1="52.60" x2="41.30" y2="52.60" stroke="#505050" stroke-width="0.9"/>
<text x="36.00" y="55.05" font-size="7.7" font-family="Liberation Sans, sans-serif" text-anchor="end" fill="#1a1a1a" textLength="17.82" lengthAdjust="spacingAndGlyphs">8000</text>
<text x="171.40" y="241.00" font-size="7.7" font-family="Liberation Sans, sans-serif" text-anchor="middle" fill="#1a1a1a" textLength="41.99" lengthAdjust="spacingAndGlyphs">BLOCK SIZE</text>
<text x="13.90" y="123.85" font-size="7.7" font-family="Liberation Sans, sans-serif" text-anchor="middle" fill="#1a1a1a" textLength="14.91" lengthAdjust="spacingAndGlyphs" transform="rotate(-90 13.90 123.85)">MSE</text>
<g clip-path="url(#lc)">
<g transform="translate(0,0.35)">
<rect x="90.80" y="-1.10" width="164.90" height="24.90" rx="1.2" fill="#888888"/>
<rect x="89.50" y="-3.00" width="164.90" height="24.90" rx="1.2" fill="#ffffff" stroke="#d4d4d4" stroke-width="0.6"/>
<rect x="92.00" y="2.10" width="14.2" height="4.95" fill="#adff2f"/>
<text x="111.80" y="7.05" font-size="7.7" font-family="Liberation Sans, sans-serif" text-anchor="start" fill="#1a1a1a" textLength="14.23" lengthAdjust="spacingAndGlyphs">RSA</text>
<rect x="92.00" y="12.90" width="14.2" height="4.95" fill="#ab02de"/>
<text x="111.80" y="17.85" font-size="7.7" font-family="Liberation Sans, sans-serif" text-anchor="start" fill="#1a1a1a" textLength="13.66" lengthAdjust="spacingAndGlyphs">AES</text>
<rect x="140.30" y="2.10" width="14.2" height="4.95" fill="#8c564b"/>
<text x="160.10" y="7.05" font-size="7.7" font-family="Liberation Sans, sans-serif" text-anchor="start" fill="#1a1a1a" textLength="14.20" lengthAdjust="spacingAndGlyphs">ECC</text>
<rect x="140.30" y="12.90" width="14.2" height="4.95" fill="#ff0008"/>
<text x="160.10" y="17.85" font-size="7.7" font-family="Liberation Sans, sans-serif" text-anchor="start" fill="#1a1a1a" textLength="14.70" lengthAdjust="spacingAndGlyphs">DSR</text>
<rect x="189.50" y="2.10" width="14.2" height="4.95" fill="#000000"/>
<text x="209.30" y="7.05" font-size="7.7" font-family="Liberation Sans, sans-serif" text-anchor="start" fill="#1a1a1a" textLength="41.34" lengthAdjust="spacingAndGlyphs">RPCSO-DSR</text>
</g>
</g>
</g>
<rect x="0" y="0" width="685" height="1.0" fill="#767676"/>
<rect x="0" y="0" width="8" height="1.0" fill="#262626"/>
<rect x="334" y="0" width="16" height="1.0" fill="#262626"/>
<rect x="677" y="0" width="8" height="1.0" fill="#262626"/>
<rect x="0" y="244.75" width="685" height="1.0" fill="#8e8e8e"/>
<rect x="0" y="257.95" width="685" height="0.9" fill="#b2b2b2"/>
<rect x="0" y="502.05" width="685" height="0.8" fill="#9c9c9c"/>
<rect x="0" y="244.3" width="8" height="0.7" fill="#8a8a8a"/>
<rect x="0" y="257.9" width="8" height="0.9" fill="#262626"/>
<rect x="0" y="502.0" width="8" height="0.85" fill="#2a2a2a"/>
<rect x="334.5" y="244.3" width="16.0" height="0.7" fill="#8a8a8a"/>
<rect x="334.5" y="257.9" width="16.0" height="0.9" fill="#262626"/>
<rect x="334.5" y="502.0" width="16.0" height="0.85" fill="#2a2a2a"/>
<rect x="677" y="244.3" width="8" height="0.7" fill="#8a8a8a"/>
<rect x="677" y="257.9" width="8" height="0.9" fill="#262626"/>
<rect x="677" y="502.0" width="8" height="0.85" fill="#2a2a2a"/>
<rect x="179" y="515.3" width="327" height="0.8" fill="#8e8e8e"/>
<rect x="0" y="514.95" width="179.5" height="1.8" fill="#8a8a8a"/>
<rect x="506" y="514.95" width="179" height="1.8" fill="#8a8a8a"/>
<rect x="179" y="760.2" width="327" height="0.8" fill="#555"/>
<rect x="0" y="760.1" width="179.5" height="1.0" fill="#262626"/>
<rect x="506" y="760.1" width="179" height="1.0" fill="#262626"/>
<rect x="0" y="773" width="685" height="1.0" fill="#262626"/>
<rect x="0" y="0" width="1" height="774" fill="#262626"/>
<rect x="684" y="0" width="1" height="774" fill="#262626"/>
<rect x="342" y="0" width="1" height="516" fill="#262626"/>
<text x="171.50" y="255.40" font-size="11.5" font-family="Liberation Serif, sans-serif" text-anchor="middle" fill="#111">(a)</text>
<text x="513.50" y="255.20" font-size="11.5" font-family="Liberation Serif, sans-serif" text-anchor="middle" fill="#111">(b)</text>
<text x="171.50" y="512.70" font-size="11.5" font-family="Liberation Serif, sans-serif" text-anchor="middle" fill="#111">(c)</text>
<text x="513.50" y="512.70" font-size="11.5" font-family="Liberation Serif, sans-serif" text-anchor="middle" fill="#111">(d)</text>
<text x="342.50" y="770.60" font-size="11.5" font-family="Liberation Serif, sans-serif" text-anchor="middle" fill="#111">(e)</text>
</svg>
</body></html>
